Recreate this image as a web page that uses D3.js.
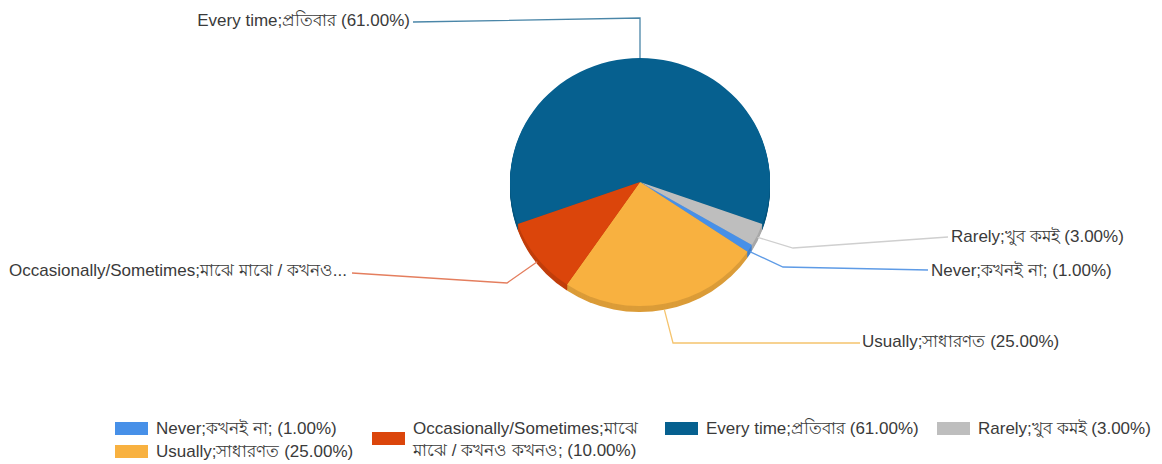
<!DOCTYPE html>
<html>
<head>
<meta charset="utf-8">
<script src="https://cdn.jsdelivr.net/npm/d3@7"></script>
<style>
  html, body { margin: 0; padding: 0; background: #fff; }
  svg text { font-family: "Liberation Sans", Arial, "Noto Sans", sans-serif; fill: #3a3a3a; }
</style>
</head>
<body>
<svg id="chart" width="1162" height="464"></svg>
<script>
// ---- data ----
const categories = [
  "Never;কখনই না;",
  "Usually;সাধারণত",
  "Occasionally/Sometimes;মাঝে মাঝে / কখনও কখনও;",
  "Every time;প্রতিবার",
  "Rarely;খুব কমই"
];
const values = [1, 25, 10, 61, 3];
const colors = ["#4790E8", "#F8B140", "#DB450B", "#06608F", "#BEBEBE"];
const lineColors = ["#5E9BE6", "#F5C46E", "#E47E5E", "#4A86A8", "#CFCFCF"];
// order of slices clockwise starting at the left edge of the big slice
const pieOrder = [3, 4, 0, 1, 2];
// outside label texts (the long one is truncated like the original)
const outsideLabels = [
  "Never;কখনই না; (1.00%)",
  "Usually;সাধারণত (25.00%)",
  "Occasionally/Sometimes;মাঝে মাঝে / কখনও...",
  "Every time;প্রতিবার (61.00%)",
  "Rarely;খুব কমই (3.00%)"
];
// legend lines
const legendLines = [
  ["Never;কখনই না; (1.00%)"],
  ["Usually;সাধারণত (25.00%)"],
  ["Occasionally/Sometimes;মাঝে", "মাঝে / কখনও কখনও; (10.00%)"],
  ["Every time;প্রতিবার (61.00%)"],
  ["Rarely;খুব কমই (3.00%)"]
];

// ---- layout ----
const cx = 640, cy = 182, rx = 130, ry = 124, depth = 6;
const fontSize = 17;
// leader-line layout, offsets relative to pie centre: elbow, label end, text anchor
const labelLayout = [
  { elbow: [143, 85], end: [288, 88], anchor: "start", tx: 291, ty: 88 },
  { elbow: [33, 161], end: [220, 161], anchor: "start", tx: 222, ty: 159 },
  { elbow: [-133, 101], end: [-288, 91], anchor: "end", tx: -293, ty: 88 },
  { elbow: [0, -164], end: [-227, -160], anchor: "end", tx: -230, ty: -162 },
  { elbow: [153, 66], end: [308, 55], anchor: "start", tx: 311, ty: 54 }
];
const legendLayout = [
  { x: 115, y: 428, sy: 428 },
  { x: 115, y: 451, sy: 451 },
  { x: 372, y: 428, sy: 438 },
  { x: 665, y: 428, sy: 428 },
  { x: 937, y: 428, sy: 428 }
];

const svg = d3.select("#chart");
const total = d3.sum(values);
const bigIdx = pieOrder[0];
const startAng = -values[bigIdx] / total * Math.PI;

const pieData = pieOrder.map(i => ({ i, value: values[i] }));
const pie = d3.pie().sort(null).value(d => d.value)
  .startAngle(startAng).endAngle(startAng + 2 * Math.PI);
const arcs = pie(pieData);
const arc = d3.arc().innerRadius(0).outerRadius(rx);

// side (depth) layers
for (let d = depth; d >= 1; d--) {
  const g = svg.append("g").attr("transform", `translate(${cx},${cy + d}) scale(1,${ry / rx})`);
  g.selectAll("path").data(arcs).join("path")
    .attr("d", arc)
    .attr("fill", a => d3.color(colors[a.data.i]).darker(0.35));
}
// top face
const topFace = svg.append("g").attr("transform", `translate(${cx},${cy}) scale(1,${ry / rx})`);
topFace.selectAll("path").data(arcs).join("path")
  .attr("d", arc)
  .attr("fill", a => colors[a.data.i]);

// leader lines + labels
const labels = svg.append("g");
arcs.forEach(a => {
  const i = a.data.i;
  const L = labelLayout[i];
  const mid = (a.startAngle + a.endAngle) / 2;
  const sx = cx + rx * Math.sin(mid);
  const cosv = -Math.cos(mid);
  const sy = cy + ry * cosv + (cosv > 0 ? depth * cosv : 0);
  const pts = [[sx, sy], [cx + L.elbow[0], cy + L.elbow[1]], [cx + L.end[0], cy + L.end[1]]];
  labels.append("path")
    .attr("d", d3.line()(pts))
    .attr("fill", "none")
    .attr("stroke", lineColors[i])
    .attr("stroke-width", 1.3);
  labels.append("text")
    .attr("x", cx + L.tx).attr("y", cy + L.ty)
    .attr("dy", "0.35em")
    .attr("text-anchor", L.anchor)
    .attr("font-size", fontSize)
    .text(outsideLabels[i]);
});

// legend
const legend = svg.append("g");
categories.forEach((c, i) => {
  const Lg = legendLayout[i];
  legend.append("rect")
    .attr("x", Lg.x).attr("y", Lg.sy - 6)
    .attr("width", 33).attr("height", 13)
    .attr("fill", colors[i]);
  legendLines[i].forEach((t, k) => {
    legend.append("text")
      .attr("x", Lg.x + 41).attr("y", Lg.y + k * 22)
      .attr("dy", "0.35em")
      .attr("font-size", fontSize)
      .text(t);
  });
});
</script>
</body>
</html>
